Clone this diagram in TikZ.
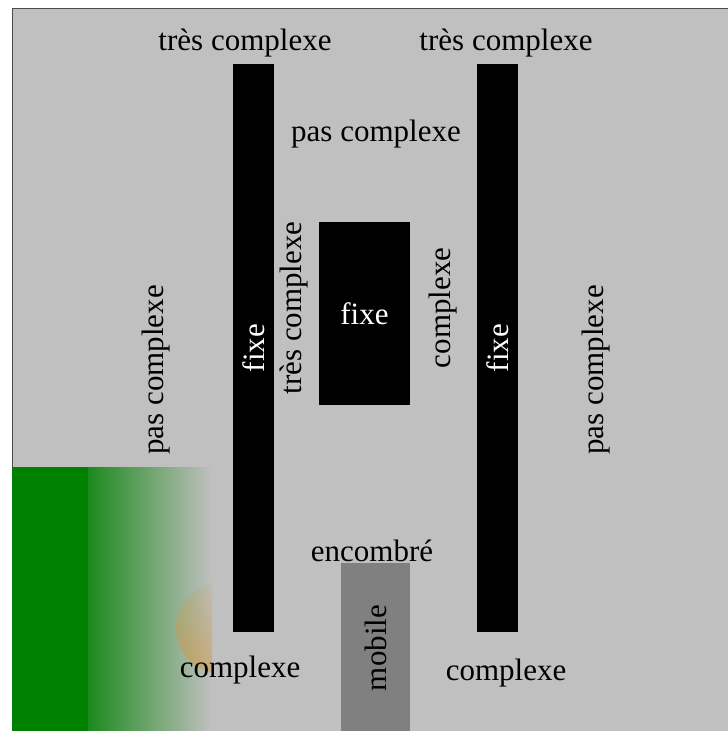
\documentclass[tikz,border=0pt]{standalone}
\usepackage{fontspec}
\setmainfont{Liberation Serif}
\usetikzlibrary{fadings}
\definecolor{fond}{RGB}{192,192,192}
\definecolor{herbe}{RGB}{0,128,0}
\definecolor{sable}{RGB}{214,150,60}

\begin{document}
\begin{tikzpicture}[x=1pt,y=-1pt,
    txt/.style={font=\fontsize{31}{36}\selectfont,inner sep=0pt},
    vert/.style={txt,rotate=90},
    mur/.style={txt,fill=black,text=white},
    mobil/.style={vert,fill=black!50,minimum width=170,minimum height=69}]
  \useasboundingbox (0,0) rectangle (728,731);
  \fill[white] (0,0) rectangle (728,731);
  \draw[fill=fond,draw=black!70] (12,8) rectangle (740,745);
  % zone verte
  \fill[herbe] (12,467) rectangle (88,731);
  \shade[left color=herbe!85!fond,right color=fond] (88,467) rectangle (212,731);
  \begin{scope}
    \clip (150,560) rectangle (212,680);
    \fill[sable,opacity=.5,path fading=north,fading angle=-30] (222,628) circle (46);
  \end{scope}
  % obstacles
  \node[mur,rotate=90,minimum width=568,minimum height=41] (murg) at (253.5,348) {fixe};
  \node[mur,rotate=90,minimum width=568,minimum height=41] (murd) at (497.5,348) {fixe};
  \node[mur,minimum width=91,minimum height=183] (bloc) at (364.5,313.5) {fixe};
  \node[mobil] (porte) at (375.5,648) {mobile};
  % zones
  \path (245,43) node[txt] (tcg) {très complexe}
        (506,43) node[txt] (tcd) {très complexe}
        (376,134) node[txt] (pch) {pas complexe}
        (372,551) node[txt] (enc) {encombré}
        (240,670) node[txt] (cbg) {complexe}
        (506,673) node[txt] (cbd) {complexe};
  \path (294,308) node[vert] (tcc) {très complexe}
        (443,308) node[vert] (cc) {complexe}
        (156,370) node[vert] (pcg) {pas complexe}
        (596,370) node[vert] (pcd) {pas complexe};
\end{tikzpicture}
\end{document}
